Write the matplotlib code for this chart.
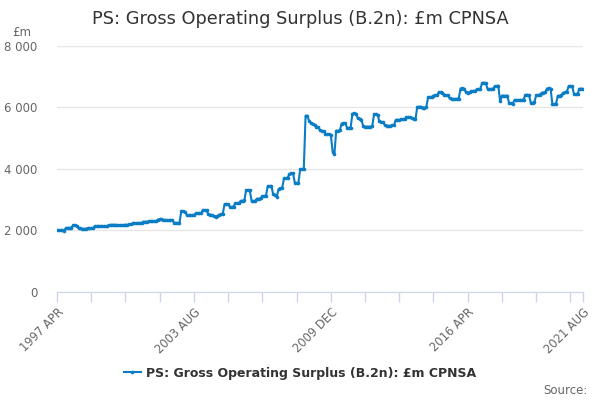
import numpy as np
import matplotlib
matplotlib.use("Agg")
import matplotlib.pyplot as plt

title = "PS: Gross Operating Surplus (B.2n): £m CPNSA"
series_name = "PS: Gross Operating Surplus (B.2n): £m CPNSA"
start_year, start_month = 1997, 4  # 1997 APR

# monthly values, £m, 1997 APR .. 2021 AUG (12 per row)
values = [
    2000, 2000, 2000, 2000, 1990, 2080, 2080, 2080, 2090, 2160, 2160, 2150,
    2060, 2060, 2050, 2050, 2050, 2070, 2070, 2070, 2080, 2130, 2130, 2130,
    2140, 2140, 2130, 2130, 2130, 2170, 2180, 2180, 2180, 2170, 2170, 2170,
    2170, 2170, 2180, 2180, 2190, 2190, 2230, 2230, 2230, 2240, 2240, 2240,
    2280, 2280, 2280, 2290, 2290, 2290, 2300, 2300, 2350, 2360, 2360, 2340,
    2340, 2330, 2330, 2330, 2340, 2250, 2240, 2240, 2250, 2620, 2620, 2610,
    2500, 2490, 2490, 2500, 2500, 2550, 2550, 2560, 2560, 2660, 2660, 2650,
    2520, 2510, 2500, 2450, 2440, 2450, 2510, 2520, 2520, 2850, 2840, 2840,
    2770, 2760, 2770, 2880, 2880, 2890, 2960, 2960, 2970, 3310, 3310, 3300,
    2960, 2950, 2960, 3030, 3030, 3040, 3110, 3120, 3120, 3440, 3440, 3430,
    3180, 3160, 3090, 3340, 3360, 3370, 3690, 3690, 3700, 3830, 3850, 3860,
    3550, 3540, 3540, 3990, 3990, 3990, 5730, 5720, 5550, 5500, 5460, 5430,
    5370, 5360, 5250, 5230, 5220, 5140, 5120, 5120, 5110, 4560, 4480, 5240,
    5240, 5250, 5470, 5480, 5480, 5340, 5330, 5340, 5790, 5800, 5790, 5640,
    5630, 5600, 5380, 5370, 5370, 5370, 5370, 5380, 5770, 5770, 5740, 5540,
    5530, 5510, 5420, 5400, 5400, 5400, 5410, 5410, 5580, 5600, 5580, 5620,
    5610, 5620, 5670, 5680, 5670, 5640, 5630, 5620, 6010, 6020, 6020, 5990,
    5990, 6000, 6320, 6330, 6340, 6380, 6400, 6400, 6490, 6500, 6480, 6410,
    6400, 6390, 6290, 6280, 6270, 6270, 6280, 6280, 6610, 6620, 6610, 6490,
    6480, 6490, 6520, 6530, 6540, 6580, 6590, 6600, 6790, 6800, 6790, 6600,
    6590, 6600, 6600, 6680, 6690, 6700, 6190, 6380, 6380, 6370, 6380, 6130,
    6130, 6120, 6240, 6230, 6240, 6240, 6240, 6250, 6400, 6410, 6400, 6150,
    6150, 6160, 6390, 6400, 6410, 6470, 6480, 6490, 6610, 6620, 6610, 6100,
    6100, 6110, 6370, 6380, 6390, 6470, 6490, 6500, 6680, 6690, 6680, 6430,
    6430, 6440, 6600, 6610, 6600,
]
y_ticks = [0, 2000, 4000, 6000, 8000]
tick_step = 19       # months between x ticks
label_every = 4      # label every 4th tick

months = ["JAN", "FEB", "MAR", "APR", "MAY", "JUN",
          "JUL", "AUG", "SEP", "OCT", "NOV", "DEC"]

def month_label(i):
    k = start_month - 1 + i
    return f"{start_year + k // 12} {months[k % 12]}"

plt.rcParams['font.family'] = ['DejaVu Sans']
line_col = '#0a7dc5'
grid_col = '#e6e6e6'
axis_col = '#ccd6eb'
text_col = '#666666'

fig = plt.figure(figsize=(6, 4), dpi=100)
ax = fig.add_axes([57 / 600, 1 - 291.8 / 400, 526 / 600, 246 / 400])

x = np.arange(len(values))
ax.plot(x, values, color=line_col, lw=1.5, marker='o', ms=2.6,
        markeredgewidth=0, label=series_name, zorder=3)

ax.set_xlim(0, len(values) - 1)
ax.set_ylim(0, 8000)

ax.set_yticks(y_ticks)
ax.set_yticklabels([f"{v:,}".replace(",", " ") for v in y_ticks],
                   color=text_col, fontsize=8.5)
ax.tick_params(axis='y', length=0, pad=14)
ax.grid(axis='y', color=grid_col, lw=1)
ax.set_axisbelow(True)

xt = list(range(0, len(values), tick_step)) + [len(values) - 1]
xl = []
for j, t in enumerate(xt):
    if t == len(values) - 1 or j % label_every == 0:
        xl.append(month_label(t))
    else:
        xl.append("")
ax.set_xticks(xt)
ax.set_xticklabels(xl, rotation=45, ha='right', rotation_mode='anchor',
                   color=text_col, fontsize=8.3)
ax.tick_params(axis='x', length=7, width=1, color=axis_col, pad=3)

for s in ['top', 'right', 'left']:
    ax.spines[s].set_visible(False)
ax.spines['bottom'].set_color(axis_col)

fig.text(0.5, 1 - 19 / 400, title, ha='center', va='center',
         fontsize=12.8, color='#333333')
fig.text(12 / 600, 1 - 32 / 400, "£m", ha='left', va='center',
         fontsize=8.5, color=text_col)
fig.text(588 / 600, 1 - 390 / 400, "Source:", ha='right', va='center',
         fontsize=8.5, color=text_col)

leg = ax.legend(loc='center', bbox_to_anchor=(0.5, (373 - 400) / -400),
                bbox_transform=fig.transFigure, frameon=False,
                handlelength=1.3, handletextpad=0.4,
                prop={'weight': 'bold', 'size': 9})
for t in leg.get_texts():
    t.set_color('#333333')

fig.savefig("out.png", dpi=100)
